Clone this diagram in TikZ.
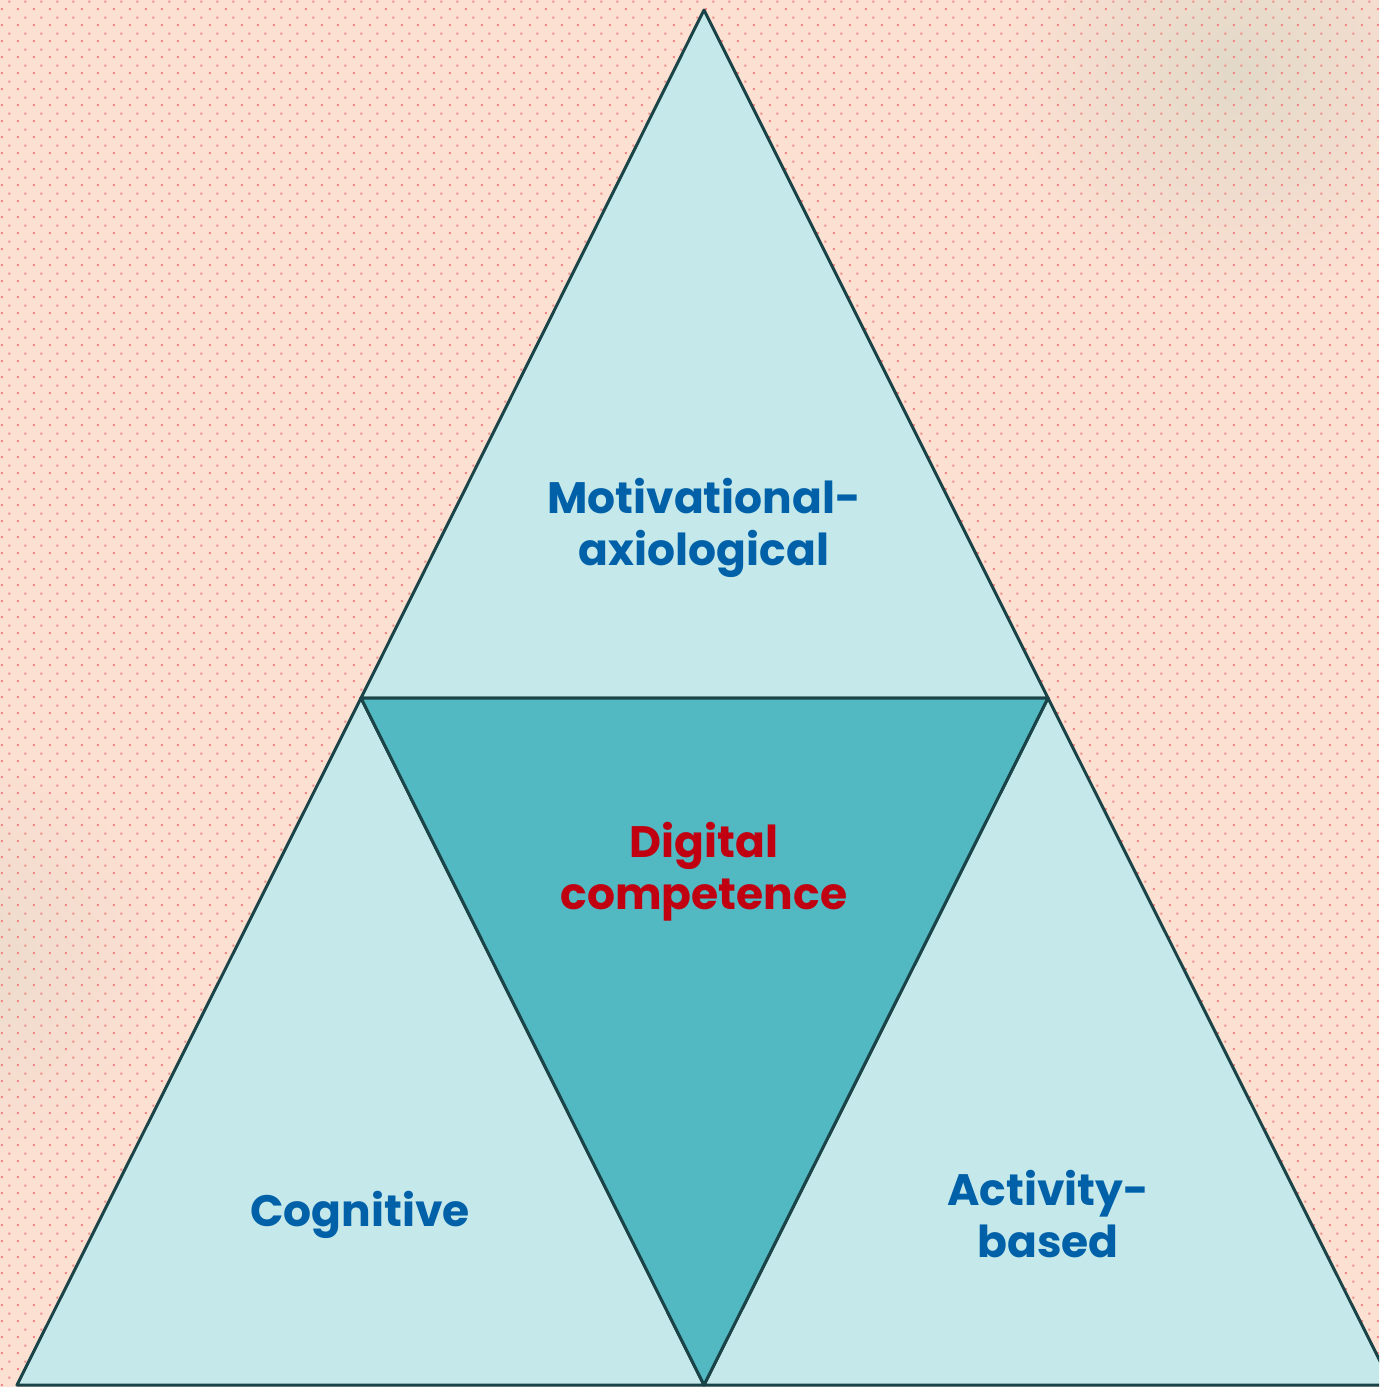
\documentclass[tikz,border=0pt]{standalone}
\usepackage{fontspec}
\usetikzlibrary{patterns}
\setmainfont{Poppins}
\definecolor{paper}{HTML}{FCE0D2}
\definecolor{dotc}{HTML}{F08A8A}
\definecolor{haze}{HTML}{DCD8C6}
\definecolor{pale}{HTML}{C5E8EA}
\definecolor{core}{HTML}{52B8C2}
\definecolor{edge}{HTML}{1A4448}
\definecolor{labelblue}{HTML}{0060A8}
\definecolor{labelred}{HTML}{C00010}
% small staggered square dots
\pgfdeclarepatternformonly{pinkdots}{\pgfqpoint{0pt}{0pt}}{\pgfqpoint{16pt}{16pt}}{\pgfqpoint{16pt}{16pt}}{%
  \pgfpathrectangle{\pgfqpoint{2pt}{2pt}}{\pgfqpoint{2pt}{2pt}}%
  \pgfpathrectangle{\pgfqpoint{10pt}{10pt}}{\pgfqpoint{2pt}{2pt}}%
  \pgfusepath{fill}}
\tikzset{
  facet/.style={fill=pale, draw=edge, line width=3pt, line join=round},
  centre/.style={fill=core, draw=edge, line width=3pt, line join=round},
  lbl/.style={text=labelblue, font=\bfseries\fontsize{44}{52}\selectfont, align=center, inner sep=0pt},
  keylbl/.style={lbl, text=labelred}
}
\begin{document}
\begin{tikzpicture}[x=1pt,y=-1pt]
  % canvas
  \fill[paper] (0,0) rectangle (1379,1387);
  \useasboundingbox (0,0) rectangle (1379,1387);
  \begin{scope}
    \clip (0,0) rectangle (1379,1387);
    % soft haze patches
    \shade[inner color=haze, outer color=paper, opacity=0.8] (1235,70) circle (230);
    \shade[inner color=haze, outer color=paper, opacity=0.5] (-40,960) circle (200);
    % dotted texture
    \fill[pattern=pinkdots, pattern color=dotc] (0,0) rectangle (1379,1387);
  \end{scope}
  % corner points
  \coordinate (apex) at (704,10);
  \coordinate (ml) at (361,698);
  \coordinate (mr) at (1048,698);
  \coordinate (bl) at (17,1385);
  \coordinate (bc) at (704,1385);
  \coordinate (br) at (1392,1385);
  \begin{scope}
    \clip (0,0) rectangle (1379,1387);
    \draw[facet] (apex) -- (mr) -- (ml) -- cycle;
    \draw[facet] (ml) -- (bc) -- (bl) -- cycle;
    \draw[facet] (mr) -- (br) -- (bc) -- cycle;
    \draw[centre] (ml) -- (mr) -- (bc) -- cycle;
  \end{scope}
  % labels
  \node[lbl] (mot) at (704,528) {Motivational-\\axiological};
  \node[keylbl] (dig) at (704,872) {Digital\\competence};
  \node[lbl] (cog) at (360,1215) {Cognitive};
  \node[lbl] (act) at (1048,1214) {Activity-\\based};
\end{tikzpicture}
\end{document}
